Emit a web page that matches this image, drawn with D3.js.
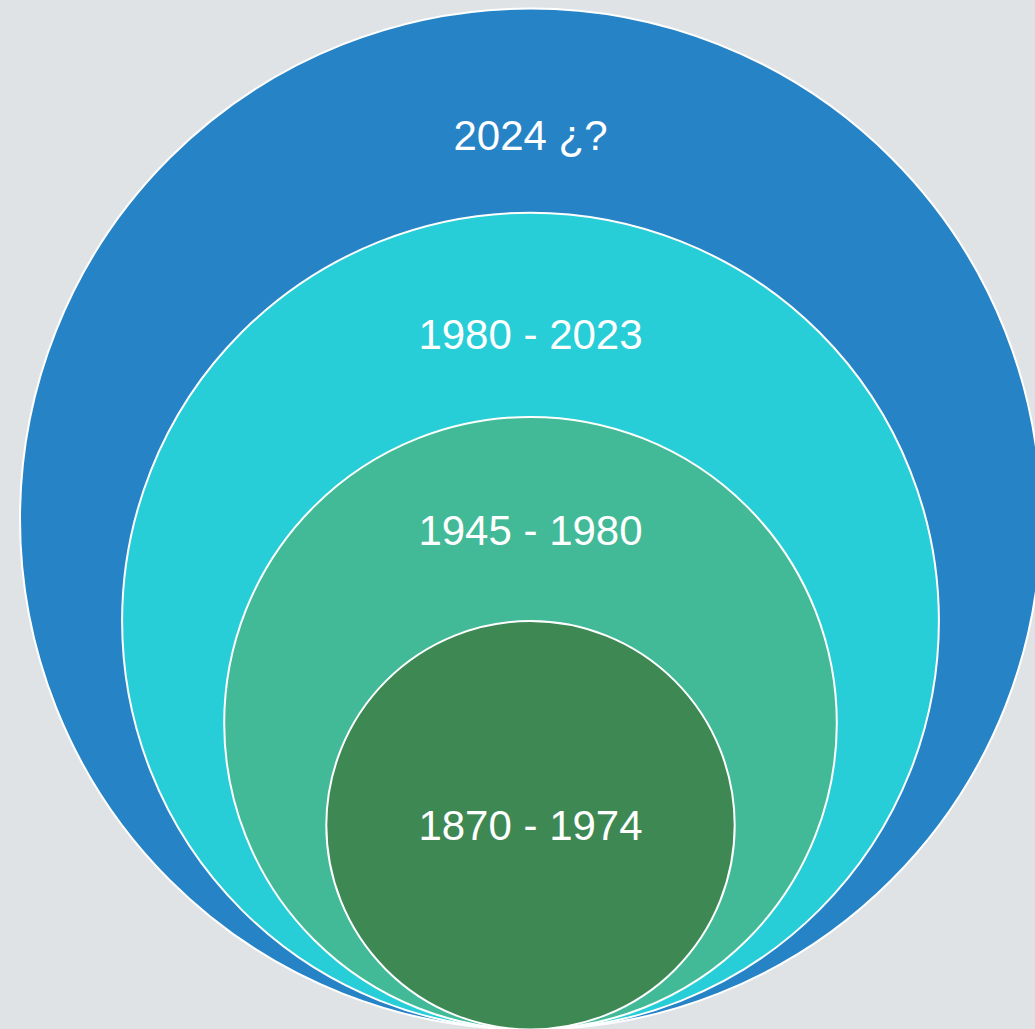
<!DOCTYPE html>
<html lang="en">
<head>
    <meta charset="UTF-8">
    <title>Nested circles</title>
    <style>
        body { margin: 0; overflow: hidden; background: #e0e3e6; }
        svg { display: block; }
    </style>
</head>
<body>
<script src="https://cdn.jsdelivr.net/npm/d3@7"></script>
<script>
    // outer to inner
    const labels = ['2024 ¿?', '1980 - 2023', '1945 - 1980', '1870 - 1974'];
    const sizes = [5, 4, 3, 2];
    const colors = ['#2683c6', '#27ced7', '#42ba97', '#3e8853'];

    const width = 1035, height = 1029;
    const cx = 530.5, bottom = 1029.5;
    // label centre measured down from each circle's top
    const labelDy = [126, 121, 113];

    const r = d3.scaleLinear().domain([0, 5]).range([0, 510.5]);

    const svg = d3.select('body').append('svg')
        .attr('width', width)
        .attr('height', height);

    const data = labels.map(function (l, i) {
        return {label: l, size: sizes[i], color: colors[i], i: i};
    });

    svg.selectAll('circle')
        .data(data)
        .enter().append('circle')
        .attr('cx', cx)
        .attr('cy', d => bottom - r(d.size))
        .attr('r', d => r(d.size))
        .attr('fill', d => d.color)
        .attr('stroke', '#ffffff')
        .attr('stroke-width', 2);

    svg.selectAll('text')
        .data(data)
        .enter().append('text')
        .attr('x', cx)
        .attr('y', function (d) {
            let top = bottom - 2 * r(d.size);
            let mid = d.i < labelDy.length ? top + labelDy[d.i] : bottom - r(d.size);
            return mid + 15;
        })
        .attr('text-anchor', 'middle')
        .attr('fill', '#ffffff')
        .style('font-family', 'Liberation Sans, Arial, sans-serif')
        .style('font-size', '42px')
        .text(d => d.label);
</script>
</body>
</html>
